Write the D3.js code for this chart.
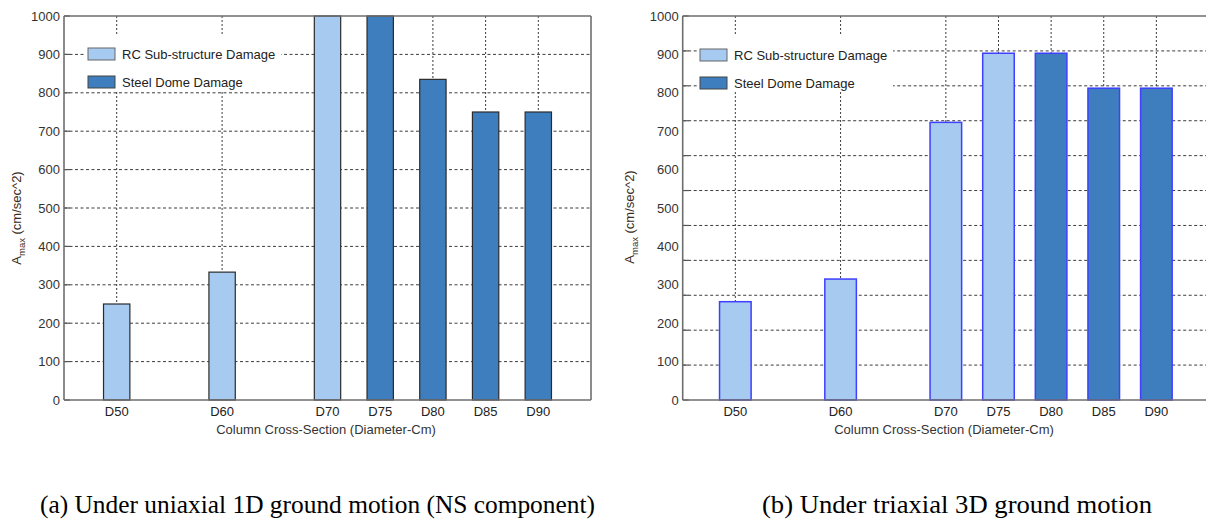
<!DOCTYPE html>
<html>
<head>
<meta charset="utf-8">
<script src="https://cdn.jsdelivr.net/npm/d3@7"></script>
<style>
  html, body { margin: 0; padding: 0; background: #fff; }
  svg { display: block; }
</style>
</head>
<body>
<svg id="chart" width="1206" height="520"></svg>
<script>
// Column diameters (cm) and their tick labels
const diameters = [50, 60, 70, 75, 80, 85, 90];
const tickLabels = ["D50", "D60", "D70", "D75", "D80", "D85", "D90"];

// Peak ground acceleration at damage, cm/sec^2
const uniaxialValues = [250, 333, 1000, 1000, 835, 750, 750];
const triaxialValues = [256, 315, 723, 903, 903, 812, 812];

// Damage mode governing each column size (0 = RC sub-structure, 1 = steel dome)
const uniaxialMode = [0, 0, 0, 1, 1, 1, 1];
const triaxialMode = [0, 0, 0, 0, 1, 1, 1];

const seriesNames = ["RC Sub-structure Damage", "Steel Dome Damage"];
const yTicks = [0, 100, 200, 300, 400, 500, 600, 700, 800, 900, 1000];
const triaxialGridTicks = [0, 100, 200, 300, 400, 500, 600, 700, 800, 900, 1000, 1100];

const captions = [
  "(a) Under uniaxial 1D ground motion (NS component)",
  "(b) Under triaxial 3D ground motion"
];

const fills = ["#a6caf0", "#3e7ebe"];
const svg = d3.select("#chart");
const sans = "'Liberation Sans', Arial, sans-serif";

function drawPanel(opt) {
  const g = svg.append("g");
  const x = d3.scaleLinear().domain([45, 95]).range([opt.left, opt.right]);
  const y = d3.scaleLinear().domain([0, 1000]).range([opt.bottom, opt.top]);
  const gridY = opt.gridScale || y;
  const gridVals = opt.gridTicks || yTicks;

  // dashed grid
  const grid = g.append("g")
    .attr("stroke", "#3c3c3c").attr("stroke-width", 1)
    .attr("stroke-dasharray", "3,2.5").attr("fill", "none");
  grid.selectAll("line.h").data(gridVals.filter(v => gridY(v) > opt.top + 1 && gridY(v) < opt.bottom - 1))
    .join("line").attr("class", "h")
    .attr("x1", opt.left).attr("x2", opt.right)
    .attr("y1", d => gridY(d)).attr("y2", d => gridY(d));
  grid.selectAll("line.v").data(diameters)
    .join("line").attr("class", "v")
    .attr("stroke-dasharray", "2,2")
    .attr("x1", d => x(d)).attr("x2", d => x(d))
    .attr("y1", opt.top).attr("y2", opt.bottom);

  // inward tick marks on the value axis
  g.append("g").selectAll("line").data(gridVals.filter(v => gridY(v) >= opt.top))
    .join("line")
    .attr("x1", opt.left).attr("x2", opt.left + 6)
    .attr("y1", d => gridY(d)).attr("y2", d => gridY(d))
    .attr("stroke", "#555").attr("stroke-width", 1.2);

  // bars
  g.append("g").selectAll("rect").data(diameters)
    .join("rect")
    .attr("x", (d) => x(d - opt.barWidth / 2))
    .attr("width", x(opt.barWidth) - x(0))
    .attr("y", (d, i) => y(opt.values[i]))
    .attr("height", (d, i) => opt.bottom - y(opt.values[i]))
    .attr("fill", (d, i) => fills[opt.mode[i]])
    .attr("stroke", opt.barStroke)
    .attr("stroke-width", opt.barStrokeWidth);

  // legend
  const lg = g.append("g").attr("transform", `translate(${opt.legendX},${opt.legendY})`);
  lg.append("rect").attr("x", -2).attr("y", -20).attr("width", 195).attr("height", 56)
    .attr("fill", "#fff");
  seriesNames.forEach((name, i) => {
    const row = lg.append("g").attr("transform", `translate(0,${i * 28})`);
    row.append("rect").attr("x", 0).attr("y", -6).attr("width", 27).attr("height", 12)
      .attr("fill", fills[i]).attr("stroke", i === 0 ? "#666" : "#444").attr("stroke-width", 1);
    row.append("text").attr("x", 34).attr("y", 5)
      .attr("font-family", sans).attr("font-size", 13).attr("fill", "#222")
      .text(name);
  });

  // axis frame
  const frame = g.append("g").attr("stroke", "#6e6e6e").attr("stroke-width", 1.6).attr("fill", "none");
  frame.append("line").attr("x1", opt.left).attr("x2", opt.left).attr("y1", opt.top).attr("y2", opt.bottom);
  frame.append("line").attr("x1", opt.left).attr("x2", opt.right).attr("y1", opt.bottom).attr("y2", opt.bottom);
  frame.append("line").attr("x1", opt.left).attr("x2", opt.right).attr("y1", opt.top).attr("y2", opt.top);
  frame.append("line").attr("x1", opt.right).attr("x2", opt.right).attr("y1", opt.top).attr("y2", opt.bottom);

  // value axis labels
  g.append("g").selectAll("text").data(yTicks)
    .join("text")
    .attr("x", opt.left - 4).attr("y", d => y(d) + 4.5)
    .attr("text-anchor", "end")
    .attr("font-family", sans).attr("font-size", 13).attr("fill", "#333")
    .text(d => d);

  // category labels
  g.append("g").selectAll("text").data(diameters)
    .join("text")
    .attr("x", d => x(d)).attr("y", opt.bottom + 16)
    .attr("text-anchor", "middle")
    .attr("font-family", sans).attr("font-size", 13).attr("fill", "#222")
    .text((d, i) => tickLabels[i]);

  // axis titles
  g.append("text")
    .attr("x", opt.xTitleX).attr("y", opt.bottom + 34)
    .attr("text-anchor", "middle")
    .attr("font-family", sans).attr("font-size", 13).attr("fill", "#333")
    .text("Column Cross-Section (Diameter-Cm)");

  const yt = g.append("text")
    .attr("transform", `translate(${opt.yTitleX},${opt.yTitleY}) rotate(-90)`)
    .attr("text-anchor", "middle")
    .attr("font-family", sans).attr("font-size", 13).attr("fill", "#3a2c20");
  yt.append("tspan").text("A");
  yt.append("tspan").attr("font-size", 9.5).attr("dy", 4).text("max");
  yt.append("tspan").attr("dy", -4).text(" (cm/sec^2)");

  // caption
  svg.append("text")
    .attr("x", opt.captionX).attr("y", 513)
    .attr("font-family", "'Liberation Serif', 'Times New Roman', serif")
    .attr("font-size", 25).attr("fill", "#000")
    .attr("textLength", opt.captionWidth).attr("lengthAdjust", "spacingAndGlyphs")
    .text(opt.caption);
}

drawPanel({
  left: 64, right: 591, top: 16, bottom: 400,
  values: uniaxialValues, mode: uniaxialMode,
  barWidth: 2.5, barStroke: "#2b2b2b", barStrokeWidth: 1.2,
  legendX: 88, legendY: 54,
  xTitleX: 326, yTitleX: 21, yTitleY: 218,
  caption: captions[0], captionX: 40, captionWidth: 555
});

drawPanel({
  left: 682.7, right: 1209, top: 16, bottom: 400,
  values: triaxialValues, mode: triaxialMode,
  gridScale: d3.scaleLinear().domain([0, 1100]).range([400, 16]),
  gridTicks: triaxialGridTicks,
  barWidth: 3, barStroke: "#3f3fff", barStrokeWidth: 1.5,
  legendX: 700, legendY: 55,
  xTitleX: 944, yTitleX: 634, yTitleY: 217,
  caption: captions[1], captionX: 762, captionWidth: 390
});
</script>
</body>
</html>
